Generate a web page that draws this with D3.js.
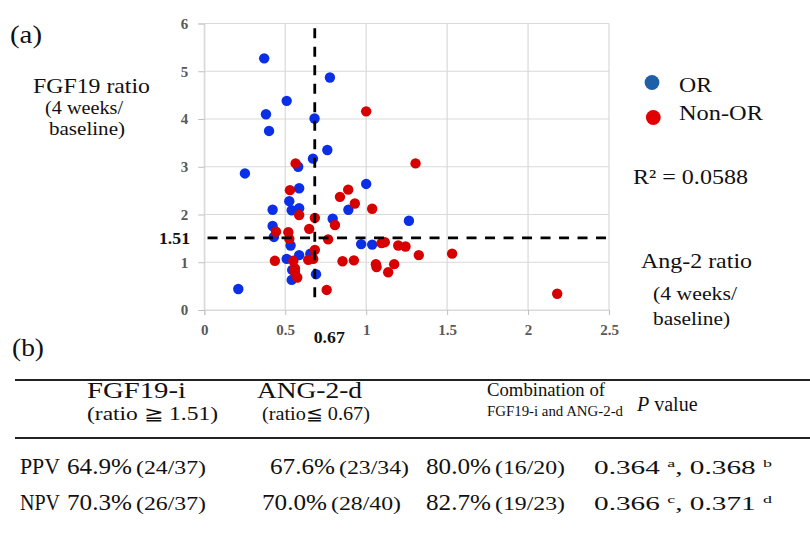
<!DOCTYPE html>
<html><head><meta charset="utf-8">
<script src="https://cdn.jsdelivr.net/npm/d3@7"></script>
<style>body{margin:0;background:#fff;}</style>
</head><body>
<svg id="c" width="810" height="545"></svg>
<script>
// ---- data ----
const orX = [0.37,0.776,0.509,0.381,0.681,0.40,0.76,0.671,0.58,0.251,1.0,0.586,0.525,0.422,0.54,0.586,0.793,0.89,1.264,0.422,0.43,0.533,0.586,0.655,0.509,0.969,1.037,0.54,0.69,0.21,0.543];
const orY = [5.27,4.87,4.38,4.10,4.01,3.75,3.35,3.17,3.0,2.86,2.64,2.55,2.28,2.10,2.09,2.13,1.91,2.10,1.87,1.76,1.53,1.35,1.15,1.18,1.07,1.38,1.37,0.63,0.75,0.44,0.84];
const nonX = [1.0,1.305,0.564,2.18,0.889,0.838,0.93,1.037,1.095,1.115,1.198,1.243,1.325,1.531,0.854,0.924,1.06,1.064,1.173,1.136,0.529,0.586,0.683,0.807,0.648,0.443,0.519,0.765,0.525,0.683,0.436,0.55,0.642,0.673,0.56,0.574,0.56,0.756];
const nonY = [4.16,3.07,3.07,0.34,2.52,2.37,2.23,2.12,1.40,1.42,1.35,1.33,1.15,1.18,1.02,1.04,0.96,0.90,0.96,0.79,2.51,1.99,1.93,1.78,1.70,1.64,1.63,1.48,1.49,1.26,1.03,1.03,1.05,1.07,0.87,0.68,0.80,0.42];
const xTicks = [0,0.5,1,1.5,2,2.5];
const yTicks = [0,1,2,3,4,5,6];
const cutX = 0.67, cutY = 1.51;
const r2Text = "R\u00B2 = 0.0588";
const legendLabels = ["OR","Non-OR"];
const tableHead = [
  {main:"FGF19-i", sub:"(ratio \u2267 1.51)"},
  {main:"ANG-2-d", sub:"(ratio\u2266 0.67)"}
];
const rowLabels = ["PPV","NPV"];
const fgfVals = [["64.9%","(24/37)"],["70.3%","(26/37)"]];
const angVals = [["67.6%","(23/34)"],["70.0%","(28/40)"]];
const comboVals = [["80.0%","(16/20)"],["82.7%","(19/23)"]];
const pVals = [[["0.364","a"],["0.368","b"]],[["0.366","c"],["0.371","d"]]];

// ---- helpers ----
const FONT = "Liberation Serif";
const svg = d3.select("#c");
function txt(parent,xx,yy,size,s,len){
  const e = parent.append("text").attr("x",xx).attr("y",yy).attr("font-size",size)
    .attr("font-family",FONT).attr("fill","#111").text(s);
  if(len){ e.attr("textLength",len).attr("lengthAdjust","spacingAndGlyphs"); }
  return e;
}

// ---- chart ----
const x = d3.scaleLinear().domain([0,2.5]).range([204.3,609]);
const y = d3.scaleLinear().domain([0,6]).range([310,23.5]);
const grid = "#d9d9d9";

const g = svg.append("g");
g.selectAll("line.hg").data(yTicks).join("line")
  .attr("x1",x(0)).attr("x2",x(2.5)).attr("y1",d=>y(d)).attr("y2",d=>y(d))
  .attr("stroke",grid).attr("stroke-width",1.2);
g.selectAll("line.vg").data(xTicks).join("line")
  .attr("y1",y(0)).attr("y2",y(6)).attr("x1",d=>x(d)).attr("x2",d=>x(d))
  .attr("stroke",grid).attr("stroke-width",1.2);

const ya = d3.axisLeft(y).tickValues(yTicks).tickSize(6).tickFormat(d3.format("d"));
const yg = svg.append("g").attr("transform",`translate(${x(0)},0)`).call(ya);
const xa = d3.axisBottom(x).tickValues(xTicks).tickSize(5).tickFormat(d=>String(d));
const xg = svg.append("g").attr("transform",`translate(0,${y(0)})`).call(xa);
[yg,xg].forEach(a=>{
  a.attr("font-family",FONT);
  a.select(".domain").attr("stroke",grid).attr("stroke-width",1.2);
  a.selectAll(".tick line").attr("stroke","#bfbfbf");
  a.selectAll("text").attr("fill","#595959").attr("font-family",FONT).attr("font-size",15).attr("font-weight","bold");
});
yg.selectAll("text").attr("x",-16);
xg.selectAll("text").attr("y",14);

svg.append("g").selectAll("circle").data(orX.map((v,i)=>[v,orY[i]])).join("circle")
  .attr("cx",d=>x(d[0])).attr("cy",d=>y(d[1])).attr("r",5.2).attr("fill","#0a2fe6");
svg.append("g").selectAll("circle").data(nonX.map((v,i)=>[v,nonY[i]])).join("circle")
  .attr("cx",d=>x(d[0])).attr("cy",d=>y(d[1])).attr("r",5.2).attr("fill","#d60000");

svg.append("line").attr("x1",x(cutX)+2).attr("x2",x(cutX)+2).attr("y1",y(5.9)).attr("y2",y(0.2))
  .attr("stroke","#000").attr("stroke-width",2.8).attr("stroke-dasharray","10,8.5");
svg.append("line").attr("x1",x(0.02)).attr("x2",x(2.52)).attr("y1",y(cutY)).attr("y2",y(cutY))
  .attr("stroke","#000").attr("stroke-width",2.8).attr("stroke-dasharray","10,8.5");
txt(svg,159,y(cutY)+6,16,String(cutY),31).attr("font-weight","bold");
txt(svg,x(cutX)+1,343,16,String(cutX),31).attr("font-weight","bold");

txt(svg,10,43,25,"(a)",32);
txt(svg,33,93,22,"FGF19 ratio",117);
txt(svg,45,114,18,"(4 weeks/",78);
txt(svg,49,135,18,"baseline)",76);
txt(svg,12,356,25,"(b)",32);

const legCol = ["#1f5fa8","#e00000"];
const legY = [82.5,117.5];
const legW = [33,84];
legendLabels.forEach((s,i)=>{
  svg.append("circle").attr("cx",652+i*1.3).attr("cy",legY[i]).attr("r",7.4).attr("fill",legCol[i]);
  txt(svg,679,i?120:92,22,s,legW[i]);
});
txt(svg,633,184,22,r2Text,115);
txt(svg,641,268,22,"Ang-2 ratio",111);
txt(svg,653,300,19,"(4 weeks/",84);
txt(svg,653,325,19,"baseline)",77);

// ---- table ----
const t = svg.append("g");
t.append("line").attr("x1",15).attr("x2",810).attr("y1",380).attr("y2",380).attr("stroke","#222").attr("stroke-width",1.8);
t.append("line").attr("x1",15).attr("x2",810).attr("y1",438).attr("y2",438).attr("stroke","#222").attr("stroke-width",1.8);
const headX = [87,257], headW = [99,105], subX = [87,262], subW = [131,108];
tableHead.forEach((h,i)=>{
  txt(t,headX[i],398,23,h.main,headW[i]);
  txt(t,subX[i],420,18,h.sub,subW[i]);
});
txt(t,487,396,18,"Combination of",118);
txt(t,487,416,15,"FGF19-i and ANG-2-d",136);
const pv = txt(t,637,411,20,"");
pv.append("tspan").attr("font-style","italic").text("P");
pv.append("tspan").text(" value");

const rowY = [474,510];
const pctX = [[67,270,426],[67,262,426]];
function valCell(x0,yy,v){
  txt(t,x0,yy,23,v[0],65);
  txt(t,x0+69,yy,18.5,v[1],70);
}
rowLabels.forEach((lab,i)=>{
  txt(t,20,rowY[i],23,lab,40);
  valCell(pctX[i][0],rowY[i],fgfVals[i]);
  valCell(pctX[i][1],rowY[i],angVals[i]);
  valCell(pctX[i][2],rowY[i],comboVals[i]);
  const p = txt(t,594,rowY[i],18,"",178);
  p.append("tspan").text(pVals[i][0][0]+" ");
  p.append("tspan").attr("font-size",11).attr("dy",-7).text(pVals[i][0][1]);
  p.append("tspan").attr("dy",7).text(", "+pVals[i][1][0]+" ");
  p.append("tspan").attr("font-size",11).attr("dy",-7).text(pVals[i][1][1]);
});
</script>
</body></html>
